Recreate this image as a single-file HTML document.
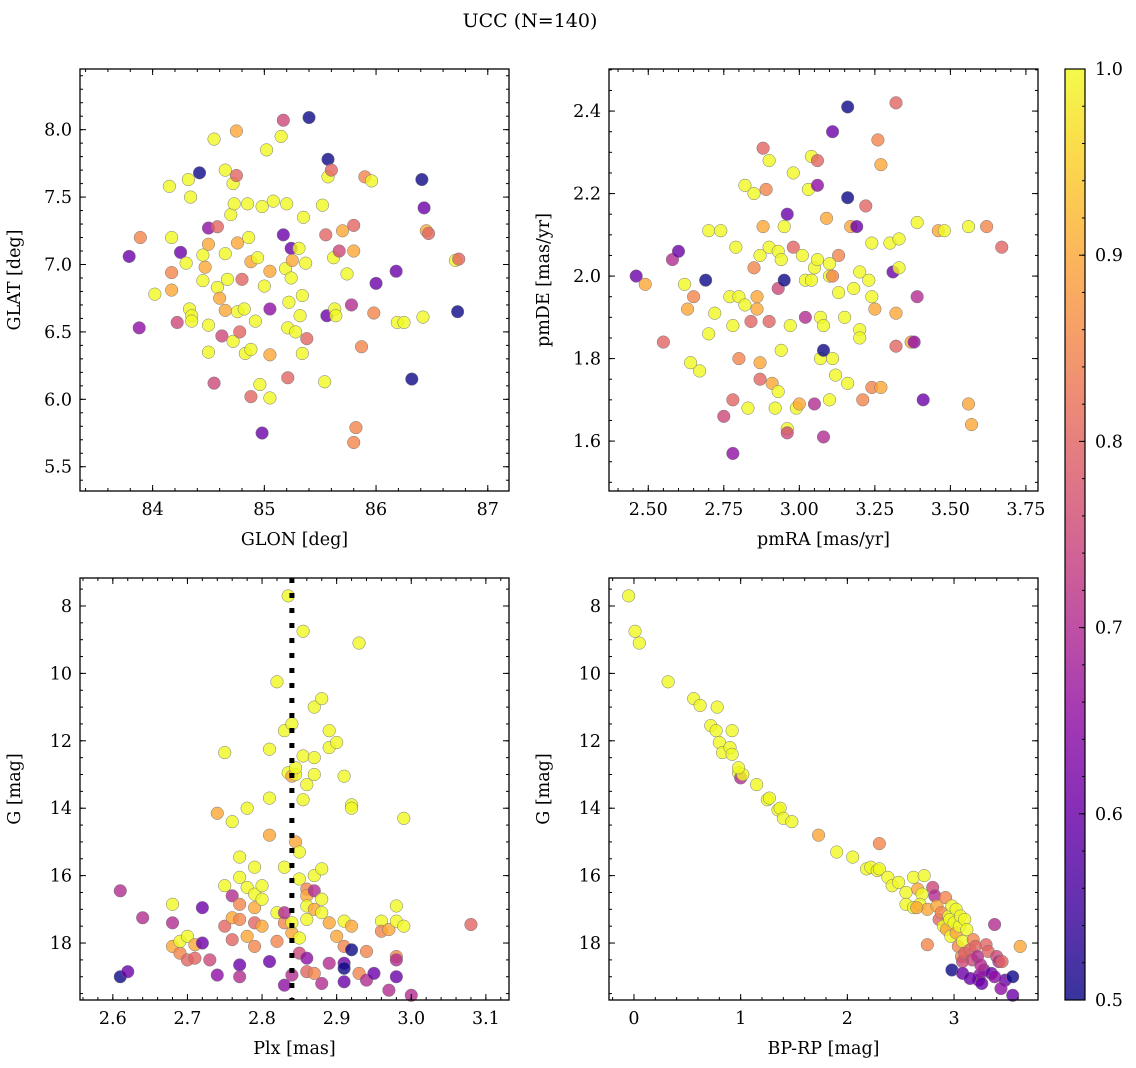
<!DOCTYPE html>
<html><head><meta charset="utf-8"><style>
body{margin:0;background:#fff}
svg{display:block;font-family:"DejaVu Serif","Liberation Serif",serif}
</style></head><body>
<svg id="fig" width="1136" height="1068" viewBox="0 0 1136 1068">
<text x="530" y="27" font-size="19" text-anchor="middle">UCC (N=140)</text>
<defs><linearGradient id="cg" x1="0" y1="1" x2="0" y2="0">
<stop offset="0" stop-color="#0d0887"/><stop offset="0.1" stop-color="#41049d"/><stop offset="0.2" stop-color="#6a00a8"/><stop offset="0.3" stop-color="#8f0da4"/><stop offset="0.4" stop-color="#b12a90"/><stop offset="0.5" stop-color="#cc4778"/><stop offset="0.6" stop-color="#e16462"/><stop offset="0.7" stop-color="#f2844b"/><stop offset="0.8" stop-color="#fca636"/><stop offset="0.9" stop-color="#fcce25"/><stop offset="1" stop-color="#f0f921"/></linearGradient></defs>
</svg>
<script>
const NS="http://www.w3.org/2000/svg";
const svg=document.getElementById('fig');
// data
const posData=[[83.79,7.06,.6],[83.89,7.20,.85],[83.88,6.53,.65],[84.02,6.78,1],[84.15,7.58,1],[84.17,7.20,1],[84.17,6.94,.85],[84.17,6.81,.9],[84.22,6.57,.75],[84.25,7.09,.6],[84.30,7.01,1],[84.32,7.63,1],[84.34,7.50,1],[84.33,6.67,1],[84.35,6.62,1],[84.35,6.58,1],[84.42,7.68,.5],[84.45,6.88,1],[84.45,7.07,1],[84.47,6.98,.9],[84.50,7.27,.65],[84.50,7.15,.9],[84.50,6.55,1],[84.50,6.35,1],[84.55,7.93,1],[84.55,6.12,.75],[84.58,7.28,.8],[84.58,6.83,1],[84.60,6.75,.9],[84.62,6.47,.75],[84.65,7.70,1],[84.65,7.08,1],[84.65,6.66,.9],[84.67,6.89,1],[84.70,7.37,1],[84.72,7.60,1],[84.73,7.45,1],[84.72,6.43,1],[84.75,7.99,.9],[84.75,7.66,.8],[84.76,7.16,.9],[84.76,6.65,1],[84.78,6.50,.8],[84.80,6.89,.8],[84.82,6.67,1],[84.83,6.34,1],[84.85,7.45,1],[84.86,7.20,1],[84.88,7.02,.9],[84.88,6.37,1],[84.88,6.02,.8],[84.92,6.58,1],[84.94,7.05,1],[84.96,6.11,1],[84.98,5.75,.6],[84.98,7.43,1],[85.00,6.84,1],[85.02,7.85,1],[85.05,6.67,.65],[85.05,6.01,1],[85.05,6.33,.9],[85.05,6.95,.9],[85.08,7.47,1],[85.15,7.95,1],[85.17,8.07,.75],[85.17,7.22,.6],[85.19,6.97,1],[85.20,7.45,1],[85.21,6.53,1],[85.21,6.16,.8],[85.22,6.72,1],[85.24,7.12,.6],[85.24,6.90,1],[85.25,7.03,.9],[85.28,6.50,1],[85.31,7.12,1],[85.32,6.62,1],[85.34,6.34,1],[85.34,6.77,1],[85.35,7.35,1],[85.37,7.01,1],[85.38,6.45,.8],[85.40,8.09,.5],[85.52,7.44,1],[85.54,6.13,1],[85.55,7.22,.8],[85.57,7.78,.5],[85.57,7.65,1],[85.56,6.62,.6],[85.60,7.70,.8],[85.62,7.05,1],[85.63,6.67,1],[85.64,6.62,1],[85.67,7.10,.75],[85.70,7.25,.9],[85.74,6.93,1],[85.78,6.70,.7],[85.80,7.29,.8],[85.80,7.10,.9],[85.80,5.68,.85],[85.82,5.79,.85],[85.87,6.39,.85],[85.90,7.65,.85],[85.96,7.62,1],[85.98,6.64,.85],[86.00,6.86,.6],[86.18,6.95,.6],[86.19,6.57,1],[86.25,6.57,1],[86.32,6.15,.5],[86.41,7.63,.5],[86.42,6.61,1],[86.43,7.42,.6],[86.45,7.25,.9],[86.47,7.23,.8],[86.71,7.03,1],[86.74,7.04,.8],[86.73,6.65,.5]];
const pmData=[[2.46,2.00,.6],[2.49,1.98,.9],[2.55,1.84,.8],[2.58,2.04,.7],[2.60,2.06,.6],[2.62,1.98,1],[2.63,1.92,.9],[2.64,1.79,1],[2.65,1.95,.85],[2.67,1.77,1],[2.69,1.99,.5],[2.70,2.11,1],[2.70,1.86,1],[2.72,1.91,1],[2.74,2.11,1],[2.75,1.66,.75],[2.77,1.95,1],[2.78,1.88,1],[2.78,1.70,.8],[2.78,1.57,.65],[2.79,2.07,1],[2.80,1.80,.85],[2.80,1.95,1],[2.82,2.22,1],[2.82,1.93,1],[2.83,1.68,1],[2.84,1.89,.8],[2.85,2.20,1],[2.85,2.02,.85],[2.86,1.95,.9],[2.86,1.92,.9],[2.87,2.05,1],[2.87,1.79,.9],[2.87,1.75,.8],[2.88,2.31,.8],[2.88,2.12,.9],[2.89,2.21,.85],[2.90,2.28,1],[2.90,2.07,1],[2.90,1.89,.8],[2.91,1.74,.9],[2.92,1.68,1],[2.93,1.72,1],[2.93,1.97,.75],[2.93,2.06,1],[2.94,1.82,1],[2.94,2.04,1],[2.95,1.99,.5],[2.95,2.12,1],[2.96,2.15,.6],[2.96,1.63,1],[2.96,1.62,.75],[2.97,1.88,1],[2.98,2.07,.8],[2.98,2.25,1],[2.99,1.68,1],[3.00,1.69,.9],[3.01,2.05,1],[3.02,1.90,.7],[3.02,1.99,1],[3.03,2.21,1],[3.04,2.29,1],[3.04,1.99,1],[3.05,2.02,1],[3.05,1.69,.7],[3.06,2.28,.8],[3.06,2.22,.65],[3.06,2.04,1],[3.07,1.80,1],[3.07,1.90,1],[3.08,1.88,1],[3.08,1.61,.7],[3.08,1.82,.5],[3.09,2.14,.9],[3.10,2.03,1],[3.10,2.00,1],[3.10,1.70,1],[3.11,2.35,.6],[3.11,1.80,1],[3.11,2.00,.85],[3.12,1.76,1],[3.13,2.05,.85],[3.13,1.96,1],[3.15,1.90,1],[3.16,1.74,1],[3.16,2.41,.5],[3.16,2.19,.5],[3.17,2.12,.9],[3.18,1.97,1],[3.19,2.12,.6],[3.20,1.87,1],[3.20,1.85,1],[3.20,2.01,1],[3.21,1.70,.85],[3.22,2.17,.8],[3.23,1.99,1],[3.24,2.08,1],[3.24,1.73,.85],[3.24,1.95,1],[3.25,1.92,.9],[3.26,2.33,.85],[3.27,1.73,.9],[3.27,2.27,.9],[3.30,2.08,1],[3.31,2.01,.6],[3.32,1.91,.9],[3.32,2.42,.8],[3.32,1.83,.8],[3.33,2.02,1],[3.33,2.09,1],[3.37,1.84,.9],[3.38,1.84,.65],[3.39,1.95,.7],[3.39,2.13,1],[3.41,1.70,.6],[3.46,2.11,.9],[3.48,2.11,1],[3.56,2.12,1],[3.56,1.69,.9],[3.57,1.64,.9],[3.62,2.12,.85],[3.67,2.07,.8]];
const plxData=[[2.61,16.45,.7],[2.61,19.0,.5],[2.62,18.85,.6],[2.64,17.25,.7],[2.68,16.85,1],[2.68,17.4,.7],[2.68,18.1,.9],[2.69,18.3,.85],[2.69,17.95,1],[2.70,18.5,.8],[2.70,17.8,1],[2.71,18.05,.9],[2.71,18.45,.8],[2.72,18.0,.6],[2.72,16.95,.6],[2.73,18.5,.75],[2.74,14.15,.9],[2.74,18.95,.65],[2.75,12.35,1],[2.75,16.3,1],[2.75,17.5,.8],[2.76,16.6,.7],[2.76,14.4,1],[2.76,17.9,.8],[2.76,17.25,.9],[2.77,16.05,1],[2.77,15.45,1],[2.77,16.85,.85],[2.77,18.65,.6],[2.77,19.0,.7],[2.77,17.3,.85],[2.78,16.35,1],[2.78,17.8,.9],[2.78,14.0,1],[2.79,17.4,.8],[2.79,15.75,1],[2.79,16.55,1],[2.79,16.95,.9],[2.79,18.1,.85],[2.80,17.5,.9],[2.80,16.3,1],[2.80,16.7,1],[2.81,13.7,1],[2.81,12.25,1],[2.81,18.55,.6],[2.81,14.8,.9],[2.82,10.25,1],[2.82,17.1,1],[2.82,17.95,.85],[2.83,11.7,1],[2.83,17.4,.85],[2.83,19.25,.65],[2.83,17.1,.7],[2.83,15.75,1],[2.835,7.7,1],[2.84,11.5,1],[2.835,12.95,1],[2.84,13.05,.9],[2.84,17.7,.9],[2.84,17.4,1],[2.84,18.95,.7],[2.845,15.0,.9],[2.85,15.3,1],[2.85,16.1,1],[2.85,17.85,1],[2.85,18.3,.75],[2.845,13.0,1],[2.845,12.8,1],[2.855,8.75,1],[2.855,12.45,1],[2.86,13.3,1],[2.855,13.75,1],[2.86,16.4,.85],[2.86,16.6,.9],[2.86,16.9,1],[2.86,17.3,1],[2.86,18.45,.65],[2.86,18.85,.8],[2.87,11.0,1],[2.87,12.5,1],[2.87,13.0,1],[2.87,16.0,1],[2.87,16.45,.7],[2.87,17.0,.9],[2.87,18.9,.85],[2.88,10.75,1],[2.88,15.8,1],[2.88,16.7,1],[2.88,17.1,1],[2.88,19.2,.7],[2.89,11.7,1],[2.89,12.2,1],[2.89,17.4,.9],[2.89,18.6,.7],[2.90,12.05,1],[2.90,17.8,.9],[2.91,13.05,1],[2.91,17.35,1],[2.91,18.1,.85],[2.91,18.6,.6],[2.91,18.75,.5],[2.91,19.15,.6],[2.92,13.9,1],[2.92,14.0,1],[2.92,17.5,.9],[2.92,18.2,.5],[2.93,9.1,1],[2.93,18.9,.85],[2.94,18.25,.85],[2.94,19.1,.7],[2.95,18.9,.6],[2.96,17.35,1],[2.96,17.65,.85],[2.97,19.4,.7],[2.97,17.6,.9],[2.98,18.4,.85],[2.98,17.35,1],[2.98,16.9,1],[2.98,19.0,.6],[2.98,18.5,.7],[2.99,14.3,1],[2.99,17.5,1],[3.00,19.55,.7],[3.08,17.45,.8]];
const cmdData=[[-0.05,7.7,1],[0.01,8.75,1],[0.05,9.1,1],[0.32,10.25,1],[0.56,10.75,1],[0.62,10.95,1],[0.78,11.0,1],[0.72,11.55,1],[0.77,11.7,1],[0.80,12.05,1],[0.83,12.35,1],[0.90,12.2,1],[0.92,12.4,1],[0.92,11.7,1],[0.98,12.95,1],[1.00,13.1,.7],[1.02,13.0,1],[0.98,12.8,1],[1.15,13.3,1],[1.25,13.75,1],[1.27,13.7,1],[1.35,14.05,1],[1.37,14.0,1],[1.40,14.3,1],[1.48,14.4,1],[1.73,14.8,.9],[1.90,15.3,1],[2.05,15.45,1],[2.18,15.8,1],[2.22,15.75,1],[2.28,15.85,1],[2.30,15.8,1],[2.30,15.05,.85],[2.38,16.05,1],[2.42,16.3,1],[2.48,16.2,1],[2.55,16.5,1],[2.62,16.05,1],[2.66,16.4,.9],[2.70,16.55,1],[2.72,16.0,1],[2.55,16.85,1],[2.62,16.95,1],[2.68,16.85,1],[2.75,17.0,.9],[2.80,16.35,.75],[2.82,16.6,.7],[2.84,16.9,.9],[2.86,17.3,.8],[2.88,17.1,.85],[2.90,17.5,1],[2.92,16.65,.85],[2.93,17.6,.9],[2.95,17.2,1],[2.96,17.3,1],[2.97,17.8,1],[2.98,16.9,1],[3.0,17.4,1],[3.02,17.0,1],[3.02,17.7,.9],[3.04,18.1,.85],[3.05,17.5,1],[3.06,17.2,1],[3.07,18.4,.85],[3.08,18.55,.75],[3.08,17.95,1],[3.10,17.3,1],[3.10,18.3,.8],[3.12,17.6,1],[3.15,18.2,.8],[3.17,18.5,.75],[3.18,17.9,.85],[3.20,18.1,.8],[3.22,18.4,.7],[3.23,19.1,.6],[3.24,18.95,.65],[3.26,19.2,.6],[3.28,18.8,.65],[3.30,18.05,.8],[3.32,18.25,.8],[3.35,18.9,.6],[3.38,19.0,.65],[3.40,18.4,.75],[3.42,18.55,.7],[3.45,18.55,.8],[3.48,19.1,.6],[3.38,17.45,.7],[3.55,19.0,.5],[3.55,19.55,.6],[3.62,18.1,.9],[2.98,18.8,.5],[3.08,18.9,.6],[3.15,19.05,.6],[2.75,18.05,.85],[3.25,18.65,.7],[2.65,16.95,.9],[3.44,19.35,.65]];
const glonTicks=[84,85,86,87], glatTicks=[5.5,6.0,6.5,7.0,7.5,8.0];
const pmraTicks=[2.50,2.75,3.00,3.25,3.50,3.75], pmdeTicks=[1.6,1.8,2.0,2.2,2.4];
const plxTicks=[2.6,2.7,2.8,2.9,3.0,3.1], gTicks=[8,10,12,14,16,18];
const bprpTicks=[0,1,2,3], cbarTicks=[0.5,0.6,0.7,0.8,0.9,1.0];
const plxLine=2.84;

const stops=[[13,8,135],[65,4,157],[106,0,168],[143,13,164],[177,42,144],[204,71,120],[225,100,98],[242,132,75],[252,166,54],[252,206,37],[240,249,33]];
function plasma(t){t=Math.max(0,Math.min(1,t))*10;const i=Math.min(9,Math.floor(t)),f=t-i;const a=stops[i],b=stops[i+1];return `rgb(${a.map((v,k)=>Math.round(v+(b[k]-v)*f)).join(',')})`;}
function el(tag,attrs,parent){const e=document.createElementNS(NS,tag);for(const k in attrs)e.setAttribute(k,attrs[k]);(parent||svg).appendChild(e);return e;}

function panel(name,box,xd,yd,xt,xfmt,xminor,yt,yfmt,yminor,data,xlabel,ylabel){
  const [L,T,R,B]=box;
  const sx=v=>L+(v-xd[0])/(xd[1]-xd[0])*(R-L);
  const sy=v=>B-(v-yd[0])/(yd[1]-yd[0])*(B-T);
  const g=el('g',{});
  
  
  const pts=el('g',{},g);
  
  
  data.forEach(d=>{const c=el('circle',{cx:sx(d[0]),cy:sy(d[1]),r:6.3,fill:plasma((d[2]-0.5)/0.5),'fill-opacity':0.8,stroke:'#777','stroke-width':0.5},pts);
    
    });
  const tk=el('g',{stroke:'#000','stroke-width':1},g);
  const xmin=Math.min(xd[0],xd[1]),xmax=Math.max(xd[0],xd[1]),ymin=Math.min(yd[0],yd[1]),ymax=Math.max(yd[0],yd[1]);
  for(let v=Math.ceil(xmin/xminor-1e-6)*xminor;v<=xmax+1e-9;v+=xminor){const x=sx(v);el('line',{x1:x,x2:x,y1:B,y2:B-3},tk);el('line',{x1:x,x2:x,y1:T,y2:T+3},tk);}
  for(let v=Math.ceil(ymin/yminor-1e-6)*yminor;v<=ymax+1e-9;v+=yminor){const y=sy(v);el('line',{x1:L,x2:L+3,y1:y,y2:y},tk);el('line',{x1:R,x2:R-3,y1:y,y2:y},tk);}
  xt.forEach(v=>{const x=sx(v);el('line',{x1:x,x2:x,y1:B,y2:B-6},tk);el('line',{x1:x,x2:x,y1:T,y2:T+6},tk);
    const t=el('text',{x:x,y:B+24,'font-size':17.5,'text-anchor':'middle'},g);t.textContent=xfmt(v);
    
    });
  yt.forEach(v=>{const y=sy(v);el('line',{x1:L,x2:L+6,y1:y,y2:y},tk);el('line',{x1:R,x2:R-6,y1:y,y2:y},tk);
    const t=el('text',{x:L-8,y:y+6,'font-size':17.5,'text-anchor':'end'},g);t.textContent=yfmt(v);
    
    });
  el('rect',{x:L,y:T,width:R-L,height:B-T,fill:'none',stroke:'#000','stroke-width':1.3},g);
  const xl=el('text',{x:(L+R)/2,y:B+54,'font-size':17.5,'text-anchor':'middle'},g);xl.textContent=xlabel;
  
  
  const yl=el('text',{x:0,y:0,'font-size':17.5,'text-anchor':'middle',transform:`translate(${L-60},${(T+B)/2}) rotate(-90)`},g);yl.textContent=ylabel;
  
  
  return {sx,sy,g};
}
const f0=v=>String(v), f1=v=>v.toFixed(1), f2=v=>v.toFixed(2);
panel('position-panel',[80,69,509,491],[83.35,87.19],[5.32,8.45],glonTicks,f0,0.2,glatTicks,f1,0.1,posData,'GLON [deg]','GLAT [deg]');
panel('proper-motion-panel',[609,69,1038,491],[2.37,3.79],[1.479,2.502],pmraTicks,f2,0.05,pmdeTicks,f1,0.05,pmData,'pmRA [mas/yr]','pmDE [mas/yr]');
const p3=panel('parallax-panel',[80,578,509,1000],[2.556,3.131],[19.69,7.17],plxTicks,f1,0.02,gTicks,f0,0.5,plxData,'Plx [mas]','G [mag]');
const ln=el('line',{x1:p3.sx(plxLine),x2:p3.sx(plxLine),y1:578,y2:1000,stroke:'#000','stroke-width':5,'stroke-dasharray':'5,10'},p3.g);


panel('cmd-panel',[609,578,1038,1000],[-0.234,3.787],[19.69,7.17],bprpTicks,f0,0.2,gTicks,f0,0.5,cmdData,'BP-RP [mag]','G [mag]');
// colorbar
const cb=el('g',{});


el('rect',{x:1065,y:69,width:20,height:931,fill:'url(#cg)',opacity:0.82},cb);
el('rect',{x:1065,y:69,width:20,height:931,fill:'none',stroke:'#000','stroke-width':1.2},cb);
const cy=v=>1000-(v-0.5)/0.5*931;
for(let v=0.5;v<=1.0001;v+=0.02){el('line',{x1:1085,x2:1082,y1:cy(v),y2:cy(v),stroke:'#000'},cb);}
cbarTicks.forEach(v=>{el('line',{x1:1085,x2:1079,y1:cy(v),y2:cy(v),stroke:'#000'},cb);
  const t=el('text',{x:1095,y:cy(v)+6,'font-size':17.5},cb);t.textContent=v.toFixed(1);
  
  });
</script>
</body></html>
